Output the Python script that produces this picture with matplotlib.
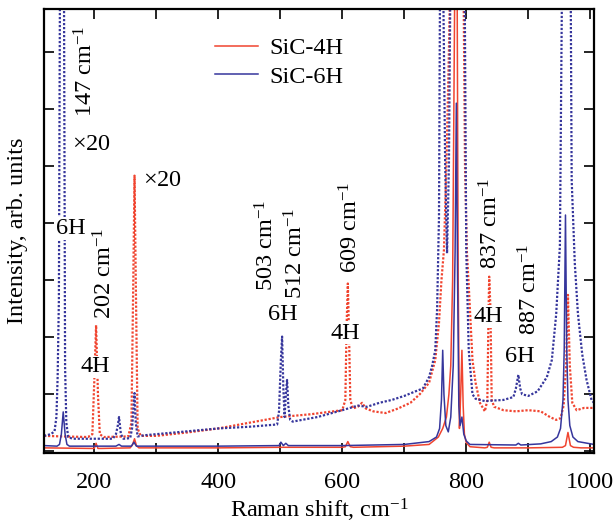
import numpy as np
import matplotlib
matplotlib.use("Agg")
import matplotlib.pyplot as plt

plt.rcParams["font.family"] = ["Liberation Serif", "DejaVu Serif"]
plt.rcParams["mathtext.fontset"] = "custom"
plt.rcParams["mathtext.rm"] = "Liberation Serif"
plt.rcParams["mathtext.it"] = "Liberation Serif:italic"

RED = "#f0442f"
BLUE = "#36369c"

# SiC-4H, measured
red_solid_x = [119, 195, 200, 203, 206, 212, 258, 262, 265, 268, 272, 400, 500, 600, 605, 609, 613, 618,
               700, 740, 755, 762, 768, 772, 775, 778, 780, 782, 785, 787, 789, 791, 793, 795, 797, 800, 806,
               830, 834, 837, 840, 845, 900, 955, 960, 964, 968, 973, 985, 1006]
red_solid_y = [0.06, 0.05, 0.05, 0.14, 0.05, 0.05, 0.06, 0.12, 0.22, 0.1, 0.06, 0.06, 0.07, 0.07, 0.08, 0.17, 0.08, 0.07,
               0.09, 0.12, 0.25, 0.4, 0.6, 1.0, 1.5, 3.0, 6.0, 9.0, 9.0, 3.0, 0.4, 1.0, 1.77, 0.8, 0.3, 0.15, 0.08,
               0.06, 0.07, 0.16, 0.07, 0.06, 0.06, 0.07, 0.1, 0.33, 0.1, 0.07, 0.06, 0.06]

# SiC-6H, measured
blue_solid_x = [119, 140, 144, 147, 150, 153, 156, 160, 235, 240, 244, 260, 264, 268,
                400, 498, 501, 505, 509, 513, 520,
                600, 700, 740, 752, 757, 760, 762, 764, 767, 771, 775, 779, 782, 784, 786, 788, 790, 793, 796, 800, 806,
                880, 884, 888, 920, 937, 947, 952, 956, 958, 960, 962, 964, 967, 972, 980, 1006]
blue_solid_y = [0.1, 0.09, 0.12, 0.3, 0.69, 0.3, 0.12, 0.09, 0.09, 0.12, 0.09, 0.09, 0.16, 0.09,
                0.09, 0.1, 0.16, 0.1, 0.14, 0.1, 0.1,
                0.1, 0.12, 0.17, 0.25, 0.4, 0.9, 1.77, 1.0, 0.45, 0.34, 0.6, 1.5, 3.5, 6.1, 3.0, 0.8, 0.45, 0.6, 0.3, 0.18, 0.12,
                0.11, 0.14, 0.11, 0.13, 0.17, 0.25, 0.4, 0.9, 1.8, 4.14, 1.8, 0.9, 0.45, 0.25, 0.17, 0.12]

# x20 curves
red_x20_x = [119, 150, 190, 197, 200, 203, 206, 209, 215, 255, 260, 263, 265, 267, 270, 275,
             300, 350, 400, 450, 500, 550, 600, 605, 607, 609, 611, 613, 617,
             625, 632, 638, 650, 670, 690, 710, 725, 740, 750, 756, 760, 764, 768, 772, 775,
             795, 798, 801, 804, 810, 815, 822, 830, 834, 836, 837, 839, 841, 845,
             860, 880, 900, 920, 935, 945, 952, 957, 961, 964, 967, 971, 978, 990, 1006]
red_x20_y = [0.27, 0.26, 0.25, 0.3, 1.2, 2.21, 1.0, 0.3, 0.25, 0.26, 0.5, 3.0, 4.83, 3.0, 0.4, 0.27,
             0.27, 0.33, 0.4, 0.5, 0.6, 0.65, 0.72, 0.9, 2.2, 2.94, 2.0, 0.9, 0.75,
             0.78, 0.85, 0.75, 0.7, 0.67, 0.75, 0.85, 1.0, 1.2, 1.6, 2.25, 3.0, 3.53, 5.0, 7.0, 9.0,
             9.0, 5.0, 3.5, 2.9, 1.6, 1.2, 0.85, 0.7, 0.9, 2.5, 3.06, 2.5, 0.9, 0.78,
             0.72, 0.7, 0.72, 0.7, 0.6, 0.55, 0.58, 0.8, 1.5, 2.74, 1.5, 0.85, 0.72, 0.76, 0.76]

blue_x20_x = [119, 130, 136, 139, 141, 143, 145, 151, 153, 155, 158, 165,
              200, 230, 235, 238, 240, 243, 247, 258, 261, 263, 265, 267, 270, 280,
              300, 350, 400, 450, 495, 498, 501, 503, 505, 507, 509, 511, 513, 516, 520,
              560, 600, 625, 640, 660, 680, 700, 718, 730, 740, 745, 750, 753, 756, 758,
              762, 766, 769, 772, 775, 797, 800, 804, 810, 815, 830,
              860, 876, 880, 884, 887, 890, 900, 915, 930, 938, 945, 951, 955,
              968, 970, 975, 980, 987, 994, 1002, 1006]
blue_x20_y = [0.27, 0.3, 0.35, 0.6, 1.3, 2.65, 9, 9, 1.48, 0.5, 0.25, 0.22,
              0.22, 0.22, 0.3, 0.45, 0.6, 0.3, 0.22, 0.23, 0.4, 0.7, 1.02, 0.5, 0.26, 0.28,
              0.3, 0.35, 0.4, 0.43, 0.47, 0.7, 1.6, 2.01, 1.1, 0.6, 1.0, 1.25, 0.8, 0.55, 0.52,
              0.6, 0.72, 0.8, 0.78, 0.85, 0.9, 0.97, 1.05, 1.1, 1.3, 1.5, 1.77, 2.5, 4.1, 9,
              9, 5, 3.47, 5, 9, 9, 3.5, 1.77, 1.0, 0.92, 0.88,
              0.9, 0.95, 1.1, 1.34, 1.1, 1.0, 0.97, 1.05, 1.3, 1.6, 2.4, 3.6, 9,
              9, 4.75, 3.3, 2.42, 1.7, 1.25, 0.9, 0.85]

# annotations: (text, x, y, rotation, white box)
labels = [
    (r"147 cm$^{-1}$", 186, 6.66, 90, False),
    (r"$\times$20", 196, 5.37, 0, False),
    (r"$\times$20", 310, 4.75, 0, False),
    ("6H", 162.9, 3.9, 0, True),
    (r"202 cm$^{-1}$", 217, 3.12, 90, False),
    ("4H", 202.3, 1.48, 0, True),
    (r"503 cm$^{-1}$", 479, 3.61, 90, False),
    (r"512 cm$^{-1}$", 525, 3.47, 90, False),
    ("6H", 504, 2.39, 0, False),
    (r"609 cm$^{-1}$", 614, 3.92, 90, False),
    ("4H", 605, 2.07, 0, True),
    (r"837 cm$^{-1}$", 840, 4.0, 90, False),
    ("4H", 835, 2.36, 0, True),
    (r"887 cm$^{-1}$", 902, 2.84, 90, False),
    ("6H", 887, 1.66, 0, False),
]

xticks = [200, 300, 400, 500, 600, 700, 800, 900, 1000]
xtick_labels = ["200", "", "400", "", "600", "", "800", "", "1000"]
FS = 17.5

fig = plt.figure(figsize=(6.13, 5.27), dpi=100)
ax = fig.add_axes([44 / 613, 1 - 453 / 527, 550 / 613, 444 / 527])

dot = (0, (1.0, 0.8))
ax.plot(red_x20_x, red_x20_y, color=RED, lw=1.6, ls=dot)
ax.plot(blue_x20_x, blue_x20_y, color=BLUE, lw=1.6, ls=dot)
ax.plot(red_solid_x, red_solid_y, color=RED, lw=1.1, label="SiC-4H")
ax.plot(blue_solid_x, blue_solid_y, color=BLUE, lw=1.1, label="SiC-6H")

for txt, x, y, rot, box in labels:
    kw = {}
    if box:
        kw["bbox"] = dict(facecolor="white", edgecolor="none", pad=0.5)
    ax.text(x, y, txt, rotation=rot, ha="center", va="center", fontsize=FS, zorder=5, **kw)

ax.set_xlim(119, 1006)
ax.set_ylim(-0.03, 7.75)
ax.set_xticks(xticks)
ax.set_xticklabels(xtick_labels)
ax.set_yticks(range(8))
ax.set_yticklabels([])
ax.tick_params(direction="in", top=True, right=True, length=7, width=1.2, labelsize=FS, pad=13.5)
for s in ax.spines.values():
    s.set_linewidth(1.6)

ax.text(-0.048, 0.5, "Intensity, arb. units", transform=ax.transAxes, rotation=90,
        ha="center", va="center", fontsize=FS)
ax.text(0.5, -0.13, r"Raman shift, cm$^{-1}$", transform=ax.transAxes,
        ha="center", va="center", fontsize=FS)

ax.legend(loc="upper left", bbox_to_anchor=((215 - 44) / 550, (453 - 37) / 444), frameon=False,
          fontsize=FS, handlelength=1.75, handletextpad=0.5, labelspacing=0.27, borderpad=0,
          borderaxespad=0)

fig.savefig("out.png", dpi=100)
